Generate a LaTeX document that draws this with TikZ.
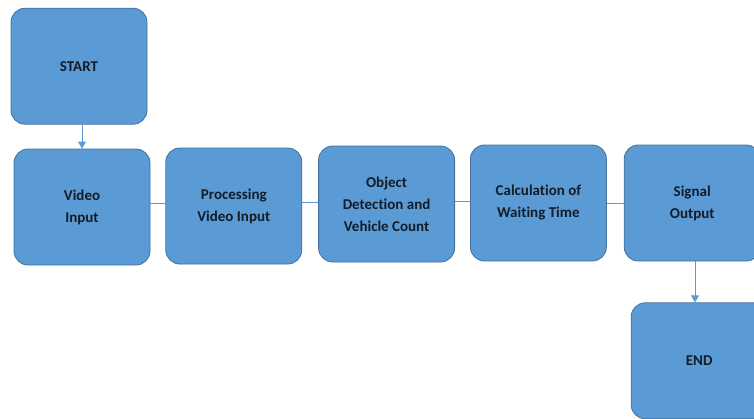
\documentclass[tikz,border=0pt]{standalone}
\usepackage{fontspec}
\setmainfont[Ligatures={NoCommon}]{Carlito}
\usetikzlibrary{positioning, arrows.meta}
\definecolor{boxblue}{HTML}{5B9BD5}
\definecolor{boxline}{HTML}{41719C}
\definecolor{txtblue}{HTML}{141C28}

\begin{document}
\begin{tikzpicture}[x=1pt,y=-1pt,
  stage/.style={rectangle, rounded corners=14pt, draw=boxline, fill=boxblue, line width=0.8pt,
    minimum width=136pt, minimum height=116pt, align=center, text=txtblue,
    font=\fontsize{15}{22}\selectfont\bfseries},
  link/.style={boxblue, line width=0.8pt},
  flow/.style={boxblue, line width=0.8pt, -{Triangle[length=7pt,width=8pt]}}]
\useasboundingbox (0,0) rectangle (754,418);
\clip (0,0) rectangle (754,418);
\node[stage] (vin) at (82,207) {Video\\Input};
\node[stage, above=24pt of vin, xshift=-3pt] (start) {START};
\node[stage, right=15pt of vin, yshift=1pt] (proc) {Processing\\Video Input};
\node[stage, right=16pt of proc, yshift=2pt] (det) {Object\\Detection and\\Vehicle Count};
\node[stage, right=15pt of det, yshift=1pt] (calc) {Calculation of\\Waiting Time};
\node[stage, right=17pt of calc] (sig) {Signal\\Output};
\node[stage, below=41pt of sig, xshift=7pt] (end) {END};
\draw[flow] (start.south -| vin.north) to (vin.north);
\draw[link] (vin.east |- 0,203) to (proc.west |- 0,203);
\draw[link] (proc.east |- 0,202) to (det.west |- 0,202);
\draw[link] (det.east |- 0,201) to (calc.west |- 0,201);
\draw[link] (calc.east |- 0,203) to (sig.west |- 0,203);
\draw[flow] (sig.south -| 695,0) to (end.north -| 695,0);
\end{tikzpicture}
\end{document}
